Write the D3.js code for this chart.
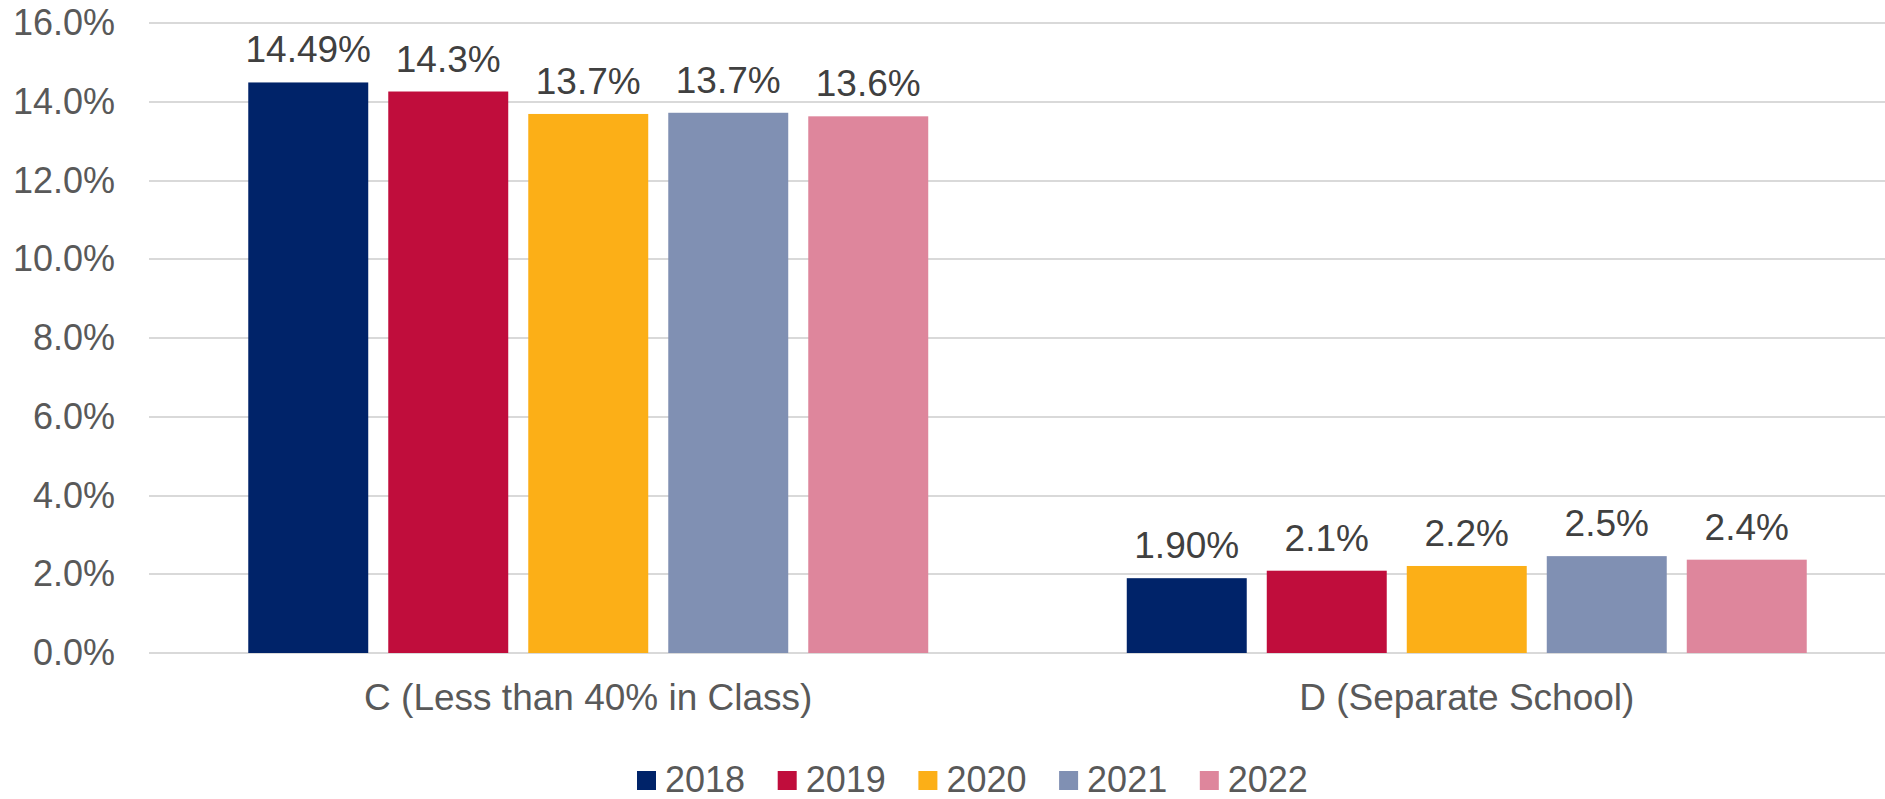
<!DOCTYPE html>
<html>
<head>
<meta charset="utf-8">
<script src="https://cdn.jsdelivr.net/npm/d3@7"></script>
<style>
  body { margin: 0; background: #fff; }
  svg { display: block; font-family: "Liberation Sans", Arial, sans-serif; }
</style>
</head>
<body>
<div id="chart"></div>
<script>
// data
const categories = ["C (Less than 40% in Class)", "D (Separate School)"];
const years = ["2018", "2019", "2020", "2021", "2022"];
const values2018 = [14.49, 1.90];
const values2019 = [14.26, 2.09];
const values2020 = [13.69, 2.21];
const values2021 = [13.72, 2.46];
const values2022 = [13.63, 2.37];
const labels2018 = ["14.49%", "1.90%"];
const labels2019 = ["14.3%", "2.1%"];
const labels2020 = ["13.7%", "2.2%"];
const labels2021 = ["13.7%", "2.5%"];
const labels2022 = ["13.6%", "2.4%"];
const yTicks = [0, 2, 4, 6, 8, 10, 12, 14, 16];
const colors = ["#002369", "#C00D3C", "#FCAF17", "#8090B3", "#DE869C"];

const seriesValues = [values2018, values2019, values2020, values2021, values2022];
const seriesLabels = [labels2018, labels2019, labels2020, labels2021, labels2022];

const width = 1885;
const height = 799;

const svg = d3
  .select("#chart")
  .append("svg")
  .attr("width", width)
  .attr("height", height);

// scales
const yScale = d3.scaleLinear().domain([0, 16]).range([653, 23]);
// plot area runs past the right edge of the picture
const x0 = d3.scaleBand().domain(categories).range([149, 1906]);
const x1 = d3
  .scaleBand()
  .domain(years)
  .range([0, x0.bandwidth()])
  .paddingInner(0.143)
  .paddingOuter(0.709);
const color = d3.scaleOrdinal().domain(years).range(colors);

// gridlines
svg
  .append("g")
  .selectAll("line")
  .data(yTicks)
  .enter()
  .append("line")
  .attr("x1", 149)
  .attr("x2", width)
  .attr("y1", d => Math.round(yScale(d)))
  .attr("y2", d => Math.round(yScale(d)))
  .attr("stroke", "#D9D9D9")
  .attr("stroke-width", 2);

// y-axis labels
const yAxis = d3
  .axisLeft(yScale)
  .tickValues(yTicks)
  .tickSize(0)
  .tickPadding(0)
  .tickFormat(d => d3.format(".1f")(d) + "%");

const yg = svg.append("g").attr("transform", "translate(115,0)").call(yAxis);
yg.select(".domain").remove();
yg.selectAll("text")
  .attr("font-size", 36)
  .attr("font-family", "Liberation Sans, Arial, sans-serif")
  .attr("fill", "#595959");

// bars
const rows = [];
years.forEach((y, i) => {
  categories.forEach((c, j) => {
    rows.push({ year: y, cat: c, value: seriesValues[i][j], label: seriesLabels[i][j] });
  });
});

svg
  .append("g")
  .selectAll("rect")
  .data(rows)
  .enter()
  .append("rect")
  .attr("x", d => x0(d.cat) + x1(d.year))
  .attr("y", d => yScale(d.value))
  .attr("width", x1.bandwidth())
  .attr("height", d => yScale(0) - yScale(d.value))
  .attr("fill", d => color(d.year));

// data labels
svg
  .append("g")
  .selectAll("text")
  .data(rows)
  .enter()
  .append("text")
  .attr("x", d => x0(d.cat) + x1(d.year) + x1.bandwidth() / 2)
  .attr("y", d => yScale(d.value) - 20)
  .attr("text-anchor", "middle")
  .attr("font-size", 37)
  .attr("fill", "#404040")
  .text(d => d.label);

// category labels
const xAxis = d3.axisBottom(x0).tickSize(0).tickPadding(0);
const xg = svg.append("g").attr("transform", "translate(0,684)").call(xAxis);
xg.select(".domain").remove();
xg.selectAll("text")
  .attr("font-size", 37)
  .attr("font-family", "Liberation Sans, Arial, sans-serif")
  .attr("fill", "#595959")
  .attr("dy", "0.71em");

// legend
const legend = svg
  .append("g")
  .selectAll("g")
  .data(years)
  .enter()
  .append("g")
  .attr("transform", (d, i) => "translate(" + (637 + i * 140.7) + ",0)");

legend
  .append("rect")
  .attr("x", 0)
  .attr("y", 771)
  .attr("width", 19)
  .attr("height", 19)
  .attr("fill", d => color(d));

legend
  .append("text")
  .attr("x", 28)
  .attr("y", 792)
  .attr("font-size", 36)
  .attr("fill", "#595959")
  .text(d => d);
</script>
</body>
</html>
